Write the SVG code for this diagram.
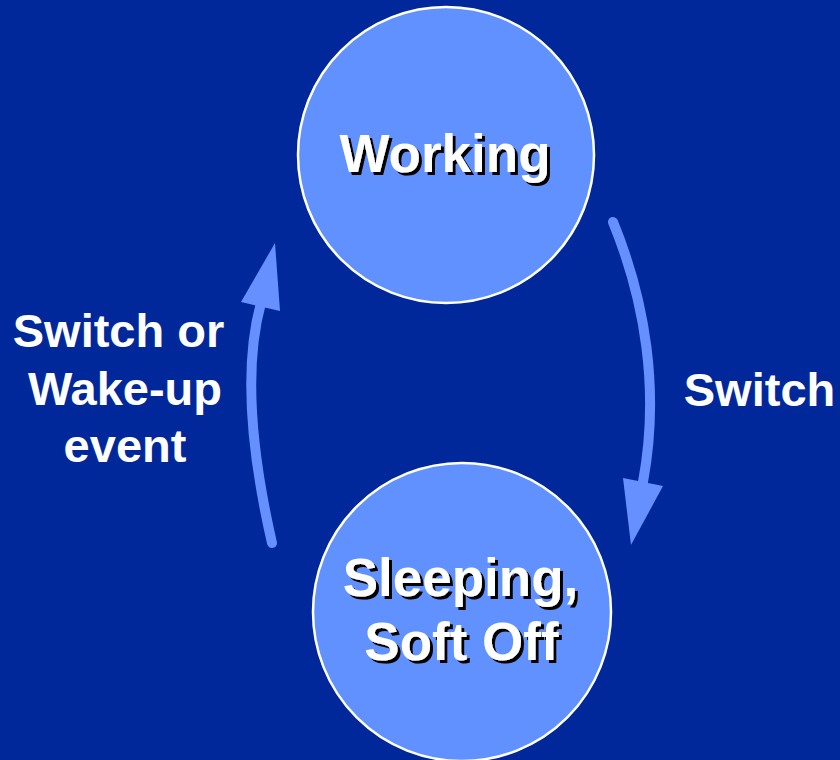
<svg xmlns="http://www.w3.org/2000/svg" width="840" height="760" viewBox="0 0 840 760">
<style>
.state{fill:#6190FF;stroke:#FFFFFF;stroke-width:2.5}
.st{font-family:"Liberation Sans",Arial,sans-serif;font-weight:bold;font-size:53px;text-anchor:middle;fill:#FFFFFF;filter:url(#shadow)}
.lbl{font-family:"Liberation Sans",Arial,sans-serif;font-weight:bold;font-size:47px;fill:#FFFFFF;text-anchor:middle}
.conn{fill:none;stroke:#6690FF;stroke-width:10;stroke-linecap:round}
.head{fill:#6690FF}
</style>
<defs>
<filter id="shadow" x="-10%" y="-20%" width="120%" height="150%">
<feOffset in="SourceAlpha" dx="3" dy="3" result="off"/>
<feFlood flood-color="#000000"/>
<feComposite in2="off" operator="in" result="sh"/>
<feMerge><feMergeNode in="sh"/><feMergeNode in="SourceGraphic"/></feMerge>
</filter>
</defs>
<rect x="0" y="0" width="840" height="760" fill="#00289B"/>
<g id="connectors">
<path class="conn" d="M 272 543 Q 237 390 261 303"/>
<polygon class="head" points="275,243 241,302 280,311"/>
<path class="conn" d="M 613 222 C 645 300 660 390 643 482"/>
<polygon class="head" points="623,478 663,486 631,545"/>
</g>
<g id="working">
<circle class="state" cx="446" cy="155" r="148"/>
<text class="st" x="445" y="172">Working</text>
</g>
<g id="sleeping">
<circle class="state" cx="462" cy="612" r="149"/>
<text class="st" x="460.5" y="596">Sleeping,</text>
<text class="st" x="461.5" y="660">Soft Off</text>
</g>
<g id="label-switch">
<text class="lbl" x="759.5" y="406">Switch</text>
</g>
<g id="label-wake">
<text class="lbl" x="118.5" y="347">Switch or</text>
<text class="lbl" x="125" y="405">Wake-up</text>
<text class="lbl" x="125" y="462">event</text>
</g>
</svg>
